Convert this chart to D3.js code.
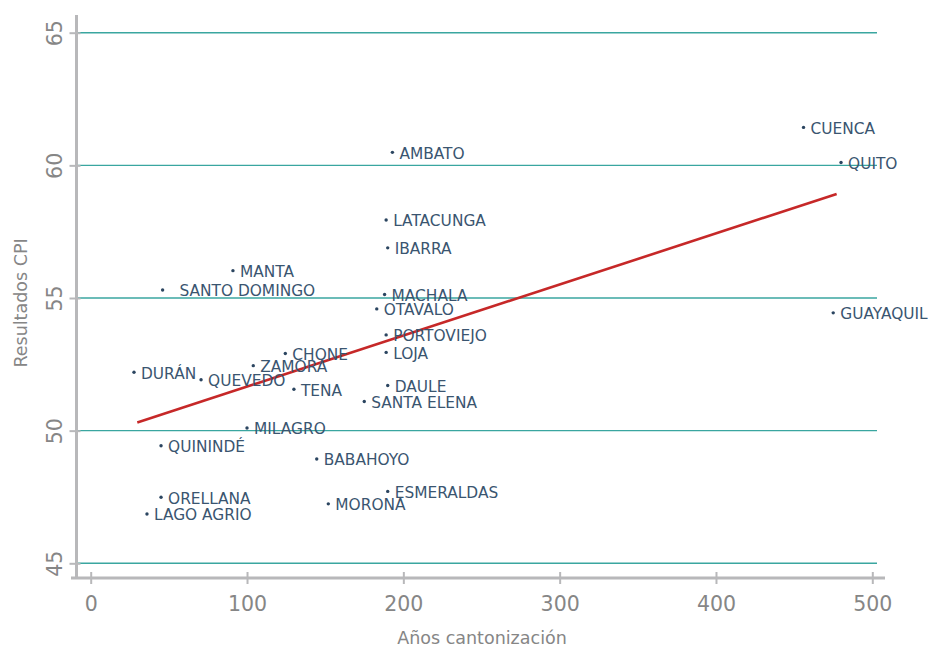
<!DOCTYPE html>
<html><head><meta charset="utf-8">
<script src="https://cdn.jsdelivr.net/npm/d3@7"></script>
<style>
html,body{margin:0;padding:0;background:#fff;}
svg{display:block;}
text{font-family:"DejaVu Sans","Noto Sans",sans-serif;}
</style></head>
<body>
<svg id="chart" width="935" height="648"></svg>
<script>
const cities = ["CUENCA","QUITO","AMBATO","LATACUNGA","IBARRA","MANTA","  SANTO DOMINGO","MACHALA","OTAVALO","GUAYAQUIL","PORTOVIEJO","LOJA","CHONE","ZAMORA","DURÁN","QUEVEDO","TENA","DAULE","SANTA ELENA","MILAGRO","QUININDÉ","BABAHOYO","ESMERALDAS","ORELLANA","MORONA","LAGO AGRIO"];
const years = [456,480,193,189,190,91,46,188,183,475,189,189,124.5,104,27.7,70.6,130,190,175,100,45,144.6,190,45,152,36];
const cpi = [61.43,60.11,60.49,57.94,56.89,56.03,55.30,55.13,54.59,54.44,53.61,52.95,52.91,52.45,52.20,51.92,51.56,51.70,51.10,50.10,49.43,48.93,47.71,47.49,47.24,46.86];
const trendX = [29.8, 477.2];
const trendY = [50.31, 58.92];
const xTicks = [0,100,200,300,400,500];
const yTicks = [45,50,55,60,65];
const xTitle = "Años cantonización";
const yTitle = "Resultados CPI";

const svg = d3.select("#chart");
const x = d3.scaleLinear().domain([0,500]).range([90.7, 872.3]);
const y = d3.scaleLinear().domain([45,65]).range([563.3, 32.7]);

// gridlines
svg.append("g").selectAll("line").data(yTicks).join("line")
  .attr("x1",77).attr("x2",877)
  .attr("y1",d=>y(d)).attr("y2",d=>y(d))
  .attr("stroke","#3aa6a0").attr("stroke-width",1.4);

// y axis
const yAxis = svg.append("g").attr("transform","translate(76.5,0)")
  .call(d3.axisLeft(y).tickValues(yTicks).tickSize(7).tickPadding(10).tickFormat(d3.format("d")));
yAxis.select(".domain").remove();
yAxis.selectAll(".tick line").attr("stroke","#b8b8ba").attr("stroke-width",2).attr("x2",-7).attr("x1",4);
yAxis.selectAll(".tick text")
  .attr("fill","#868686").attr("font-size",20.5)
  .attr("text-anchor","middle")
  .attr("transform","translate(-22,0) rotate(-90)").attr("x",0).attr("y",0).attr("dy","0.35em");
svg.append("line").attr("x1",76.5).attr("x2",76.5).attr("y1",15).attr("y2",579)
  .attr("stroke","#b8b8ba").attr("stroke-width",3);

// x axis
const xAxis = svg.append("g").attr("transform","translate(0,578)")
  .call(d3.axisBottom(x).tickValues(xTicks).tickSize(6).tickPadding(12).tickFormat(d3.format("d")));
xAxis.select(".domain").remove();
xAxis.selectAll(".tick line").attr("stroke","#b8b8ba").attr("stroke-width",2).attr("y1",-6).attr("y2",6);
xAxis.selectAll(".tick text").attr("fill","#868686").attr("font-size",20.5);
svg.append("line").attr("x1",71).attr("x2",885).attr("y1",578).attr("y2",578)
  .attr("stroke","#b8b8ba").attr("stroke-width",3);

// titles
svg.append("text").attr("x",482).attr("y",644).attr("text-anchor","middle")
  .attr("fill","#868686").attr("font-size",17.5).text(xTitle);
svg.append("text").attr("transform","translate(27,303) rotate(-90)").attr("text-anchor","middle")
  .attr("fill","#868686").attr("font-size",17.5).text(yTitle);

// trend line
svg.append("line")
  .attr("x1",x(trendX[0])).attr("y1",y(trendY[0]))
  .attr("x2",x(trendX[1])).attr("y2",y(trendY[1]))
  .attr("stroke","#c62828").attr("stroke-width",2.6);

// points + labels
const pts = cities.map((c,i)=>({c, yr:years[i], v:cpi[i]}));
const g = svg.append("g");
g.selectAll("circle").data(pts).join("circle")
  .attr("cx",d=>x(d.yr)).attr("cy",d=>y(d.v)).attr("r",1.7).attr("fill","#2b4560");
g.selectAll("text").data(pts).join("text")
  .attr("x",d=>x(d.yr)+7).attr("y",d=>y(d.v)+1).attr("dy","0.35em")
  .attr("fill","#3a5570").attr("font-size",15.4)
  .style("white-space","pre").attr("xml:space","preserve")
  .text(d=>d.c);
</script>
</body></html>
